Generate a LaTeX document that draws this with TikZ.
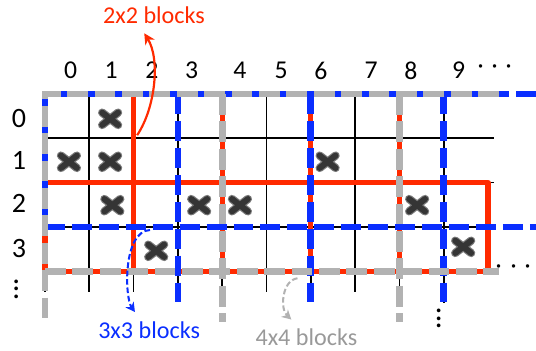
\documentclass[tikz,border=0pt]{standalone}
\usepackage{fontspec}
\setmainfont{Carlito}
\usetikzlibrary{arrows.meta}
\definecolor{gridred}{HTML}{FF2A00}
\definecolor{gridblue}{HTML}{0A2EFF}
\definecolor{gridgray}{HTML}{B2B2B2}
\definecolor{labelgray}{HTML}{999999}
\definecolor{xdark}{HTML}{353535}
\definecolor{xrim}{HTML}{7A7A7A}
\tikzset{
  cline/.style={line width=1.1pt,color=black},
  rline/.style={line width=3.4pt,color=gridred,line join=round},
  bline/.style={line width=4.3pt,color=gridblue,dash pattern=on 12.8pt off 4.5pt},
  gline/.style={line width=4.3pt,color=gridgray,dash pattern=on 13.4pt off 4.2pt},
  idx/.style={font=\fontsize{16.5}{19}\selectfont,inner sep=0pt},
  ridx/.style={idx,font=\fontsize{18}{21}\selectfont},
  blabel/.style={font=\fontsize{15.5}{18}\selectfont,inner sep=6pt},
  xmark/.style={minimum size=0.6cm,inner sep=0pt,path picture={
    \draw[shift={(path picture bounding box.center)},line cap=round,line width=5.3pt,color=xrim]
      (-0.18,-0.14)--(0.18,0.14) (-0.18,0.14)--(0.18,-0.14);
    \draw[shift={(path picture bounding box.center)},line cap=round,line width=3.8pt,color=xdark]
      (-0.18,-0.14)--(0.18,0.14) (-0.18,0.14)--(0.18,-0.14);}},
  redge/.style={-{Stealth[length=7pt,width=7pt]},line width=1.4pt,color=gridred},
  bedge/.style={-{Stealth[length=6pt,width=6.5pt]},line width=1.3pt,color=gridblue,dash pattern=on 3.6pt off 1.8pt},
  gedge/.style={-{Stealth[length=6pt,width=6.5pt]},line width=1.3pt,color=gridgray,dash pattern=on 3.6pt off 1.8pt},
}
\begin{document}
\begin{tikzpicture}[x=1cm,y=-1cm]
  \useasboundingbox (-1.016,-2.122) rectangle (11.084,5.801);
  \foreach \c in {0,...,8} \draw[cline] (\c,0)--(\c,4.47);
  \draw[cline] (9,0)--(9,4.72);
  \foreach \r in {0,...,4} \draw[cline] (0,\r)--(10.14,\r);
  \draw[rline] (8,0)--(0,0)--(0,4)--(10,4)--(10,2)--(0,2);
  \foreach \c in {2,4,6,8} \draw[rline] (\c,0)--(\c,4);
  \draw[bline] (11.084,0)--(0,0)--(0,3);
  \draw[bline] (0,3)--(11.084,3);
  \foreach \c in {3,6,9} \draw[bline] (\c,0)--(\c,4.7);
  \draw[gline] (10.25,0)--(0,0)--(0,5.15);
  \draw[gline] (0,4)--(10.25,4);
  \foreach \c in {4,8} \draw[gline] (\c,0)--(\c,5.15);
  \foreach \c/\x in {0/0.58,1/1.49,2/2.41,3/3.31,4/4.40,5/5.33,6/6.23,7/7.36,8/8.26,9/9.34}
    \node[idx] (col\c) at (\x,-0.53) {\c};
  \node[idx] (coldots) at (10.16,-0.6) {\fontsize{20}{20}\selectfont$\cdots$};
  \foreach \r/\y in {0/0.55,1/1.49,2/2.48,3/3.49}
    \node[ridx] (row\r) at (-0.59,\y) {\r};
  \node[idx,scale=1.2] (rowdots) at (-0.65,4.28) {$\vdots$};
  \node[idx,scale=1.2] (coldots9) at (8.89,4.94) {$\vdots$};
  \node[idx] (rowend) at (10.58,3.92) {\fontsize{20}{20}\selectfont$\cdots$};
  \foreach \px/\py [count=\i] in {1.47/0.56,0.54/1.53,1.47/1.53,6.38/1.53,1.52/2.51,3.48/2.51,4.40/2.51,8.40/2.51,2.51/3.54,9.44/3.45}
    \node[xmark] (x\i) at (\px,\py) {};
  \node[blabel,text=gridred] (lbl2) at (2.46,-1.78) {2x2 blocks};
  \node[blabel,text=gridblue] (lbl3) at (2.35,5.33) {3x3 blocks};
  \node[blabel,text=labelgray] (lbl4) at (5.90,5.50) {4x4 blocks};
  \coordinate (from2) at (2.08,0.93);
  \coordinate (from3) at (2.37,3.07);
  \coordinate (from4) at (5.70,4.16);
  \draw[redge] (from2) .. controls (2.5,0.3) and (2.6,-0.8) .. ([xshift=-0.22cm]lbl2.south);
  \draw[bedge] (from3) .. controls (1.75,3.1) and (1.8,4.6) .. ([xshift=-0.32cm]lbl3.north);
  \draw[gedge] (from4) .. controls (5.35,4.2) and (5.3,4.85) .. ([xshift=-0.34cm]lbl4.north);
\end{tikzpicture}
\end{document}
